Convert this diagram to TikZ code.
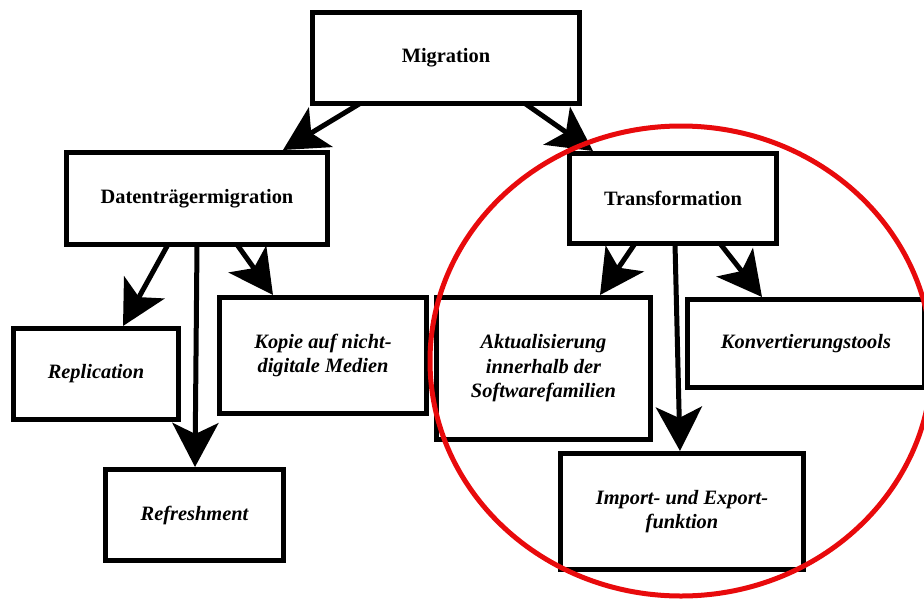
\documentclass[tikz,border=0pt]{standalone}
\usepackage{fontspec}
\setmainfont{Liberation Serif}
\usetikzlibrary{arrows.meta,calc,shapes.geometric}
\definecolor{ringred}{RGB}{232,10,12}
\begin{document}
\begin{tikzpicture}[x=1pt,y=-1pt,
  box/.style={draw=black,line width=5pt,fill=white,inner sep=0pt,outer sep=0pt,
    align=center,font=\fontsize{20.4}{24.5}\selectfont\bfseries},
  leaf/.style={box,font=\fontsize{20.4}{24.5}\selectfont\bfseries\itshape},
  arr/.style={line width=5pt,-{Stealth[length=44pt,width=46pt,inset=11pt]}}]
\useasboundingbox (0,0) rectangle (924,600);
\clip (0,0) rectangle (924,600);
% nodes
\node[box,minimum width=267pt,minimum height=91pt] (mig) at (446,58) {Migration};
\node[box,minimum width=261pt,minimum height=92pt] (dat) at (197,198.5) {Datenträgermigration};
\node[box,minimum width=207pt,minimum height=90pt] (tra) at (673,198.5) {Transformation};
\node[leaf,minimum width=165pt,minimum height=91pt] (rep) at (96,374) {Replication};
\node[leaf,minimum width=207pt,minimum height=116pt] (kop) at (323,355.5) {Kopie auf nicht-\\digitale Medien};
\node[leaf,minimum width=178pt,minimum height=91pt] (ref) at (194.5,515) {Refreshment};
\node[leaf,minimum width=214pt,minimum height=142pt] (akt) at (543.5,368.5) {Aktualisierung\\innerhalb der\\Softwarefamilien};
\node[leaf,minimum width=237pt,minimum height=88pt] (kon) at (806,343.5) {Konvertierungstools};
\node[leaf,minimum width=243pt,minimum height=116pt] (imp) at (682,511.5) {Import- und Export-\\funktion};
% connectors
\draw[arr] ($(mig.south west)+(47.5,0)$) -- ($(dat.north east)+(-44.5,-2.5)$);
\draw[arr] ($(mig.south west)+(212.5,0)$) -- ($(tra.north west)+(23.5,-2.5)$);
\draw[arr] ($(dat.south west)+(101.5,0)$) -- ($(rep.north west)+(109.5,-2.5)$);
\draw[arr] ($(dat.south west)+(130.5,0)$) -- ($(ref.north west)+(89.5,-2.5)$);
\draw[arr] ($(dat.south west)+(170.5,0)$) -- ($(kop.north west)+(53.5,-2.5)$);
\draw[arr] ($(tra.south west)+(65.5,0)$) -- ($(akt.north west)+(163.5,-2.5)$);
\draw[arr] ($(tra.south west)+(105.5,0)$) -- ($(imp.north west)+(119.5,-2.5)$);
\draw[arr] ($(tra.south west)+(150.5,0)$) -- ($(kon.north west)+(74.5,-2.5)$);
% ring
\node[draw=ringred,line width=5pt,ellipse,minimum width=502pt,minimum height=470pt,inner sep=0pt] (ring) at (681,361) {};
\end{tikzpicture}
\end{document}
